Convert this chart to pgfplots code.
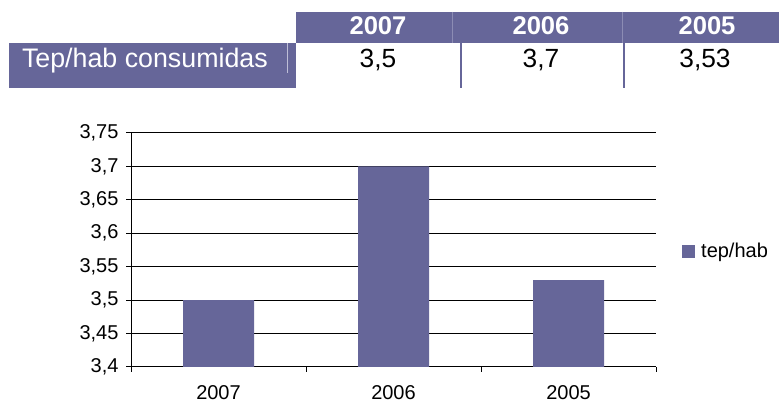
\documentclass[border=0pt]{standalone}
\usepackage{fontspec}
\setmainfont{Liberation Sans}
\usepackage{pgfplots}
\pgfplotsset{compat=1.18}

\definecolor{barc}{RGB}{102,102,153}
\definecolor{sepl}{RGB}{140,140,180}
\definecolor{sepw}{RGB}{190,190,215}

\begin{document}
\begin{tikzpicture}
\useasboundingbox (0,0) rectangle (779pt,403pt);

% table above the chart (pixel coordinates, y measured from the bottom)
\fill[barc] (296pt,391pt) rectangle (779pt,360pt);
\fill[barc] (9pt,360pt) rectangle (296pt,315pt);
\draw[sepw, line width=1pt] (287pt,360pt) -- (287pt,330pt);
\draw[sepl, line width=1pt] (452pt,391pt) -- (452pt,360pt);
\draw[sepl, line width=1pt] (622pt,391pt) -- (622pt,360pt);
\draw[barc, line width=1.5pt] (461pt,360pt) -- (461pt,315pt);
\draw[barc, line width=1.5pt] (624pt,360pt) -- (624pt,315pt);

\begin{scope}[every node/.style={inner sep=0pt, outer sep=0pt}]
\node[anchor=base west, text=white, font=\fontsize{26.8}{30}\selectfont] at (22pt,335pt) {Tep/hab consumidas};
\node[anchor=base, text=white, font=\fontsize{25.6}{30}\selectfont\bfseries] at (378pt,368pt) {2007};
\node[anchor=base, text=white, font=\fontsize{25.6}{30}\selectfont\bfseries] at (541pt,368pt) {2006};
\node[anchor=base, text=white, font=\fontsize{25.6}{30}\selectfont\bfseries] at (707pt,368pt) {2005};
\node[anchor=base, font=\fontsize{26.3}{30}\selectfont] at (378pt,335pt) {3,5};
\node[anchor=base, font=\fontsize{26.3}{30}\selectfont] at (541pt,335pt) {3,7};
\node[anchor=base, font=\fontsize{26.3}{30}\selectfont] at (705pt,335pt) {3,53};
\end{scope}

\begin{axis}[
    at={(131pt,36pt)}, anchor=south west,
    scale only axis,
    width=525pt, height=234pt,
    font=\fontsize{20}{23}\selectfont,
    /pgf/number format/assume math mode=true,
    axis lines*=left,
    xmin=-0.5, xmax=2.5,
    ymin=3.4, ymax=3.75,
    ytick={3.4,3.45,3.5,3.55,3.6,3.65,3.7,3.75},
    yticklabel style={xshift=-4pt, /pgf/number format/.cd, use comma, fixed, precision=2},
    xtick={0,1,2},
    xticklabels={2007,2006,2005},
    xticklabel style={inner sep=0pt, yshift=-13.5pt},
    minor xtick={-0.5,0.5,1.5,2.5},
    major x tick style={draw=none},
    tick align=outside,
    major tick length=5pt,
    minor tick length=5pt,
    tick style={black, line width=1pt},
    axis line style={black, line width=1pt},
    ymajorgrids,
    grid style={black, line width=1pt},
    ybar, bar width=71pt,
    legend style={draw=none, fill=none, at={(axis description cs:1.0495,0.4936)}, anchor=west, inner sep=0pt},
    legend image code/.code={\fill[barc] (0pt,-6.5pt) rectangle (13pt,6.5pt); \path (17pt,0pt);},
    legend cell align=left,
]
\addplot[fill=barc, draw=none] coordinates {(0,3.5) (1,3.7) (2,3.53)};
\legend{tep/hab}
\end{axis}
\end{tikzpicture}
\end{document}
